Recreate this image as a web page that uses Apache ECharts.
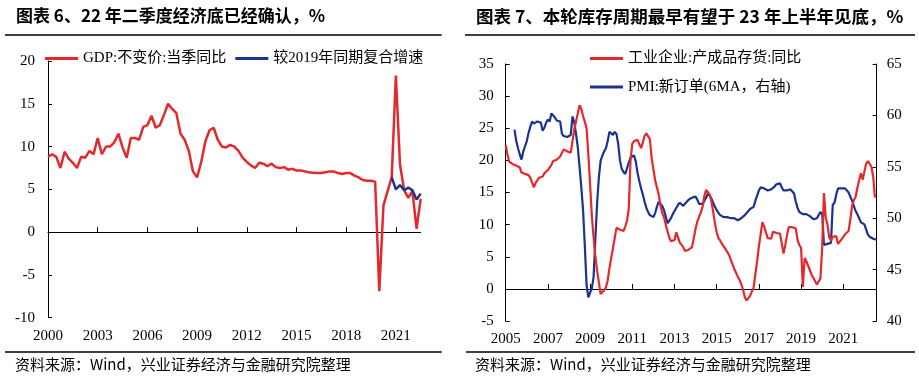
<!DOCTYPE html>
<html><head><meta charset="utf-8">
<script src="https://cdn.jsdelivr.net/npm/echarts@6/dist/echarts.min.js"></script>
<style>html,body{margin:0;padding:0;background:#fff}#c{width:919px;height:379px}</style>
</head><body><div id="c"></div>
<script>
// ---------- Left chart: quarterly GDP ----------
const gdpYears = [2000,2001,2002,2003,2004,2005,2006,2007,2008,2009,2010,2011,2012,2013,2014,2015,2016,2017,2018,2019,2020,2021,2022];
const gdpQuarterCount = 91; // 2000Q1 - 2022Q3
const gdpYoY = [
  8.8, 9.1, 8.8, 7.5,
  9.4, 8.6, 8.1, 7.5,
  8.8, 8.7, 9.5, 9.1,
  11.0, 9.1, 10.0, 10.0,
  10.5, 11.5, 9.9, 8.7,
  11.0, 11.0, 10.8, 12.3,
  12.5, 13.6, 12.2, 12.5,
  13.7, 15.0, 14.4, 13.9,
  11.5, 10.8, 9.5, 7.1,
  6.4, 8.2, 10.6, 11.9,
  12.2, 10.8, 10.0, 9.9,
  10.2, 10.0, 9.5, 8.7,
  8.2, 7.8, 7.5, 8.1,
  8.0, 7.7, 8.0, 7.6,
  7.5, 7.6, 7.3, 7.4,
  7.2, 7.2, 7.1, 7.0,
  6.95, 6.9, 6.9, 7.0,
  7.1, 7.1, 6.9, 6.8,
  6.9, 6.9, 6.6, 6.4,
  6.1, 6.0, 6.0, 5.9,
  -6.9, 3.1, 4.8, 6.4,
  18.3, 7.9, 4.9, 4.0,
  4.8, 0.4, 3.9
];
// compound growth vs 2019, from 2020Q4 to 2022Q3
const gdpVs2019Start = 83;
const gdpVs2019Values = [6.4, 5.0, 5.5, 4.9, 5.2, 4.9, 3.8, 4.5];
const gdpTickLabels = ['2000','2003','2006','2009','2012','2015','2018','2021'];

// ---------- Right chart: monthly inventory & PMI ----------
const invFirstYear = 2005, invMonthCount = 212; // 2005-01 .. 2022-08
const inv2005 = [22.4,20.9,19.8,19.5,19.4,19.4,19.2,19.1,18.9,18.1,18.0,17.9];
const inv2006 = [17.8,17.7,17.3,17.0,15.8,16.5,16.9,17.3,17.4,17.5,18.0,18.2];
const inv2007 = [18.5,18.8,19.3,19.9,20.0,20.1,20.3,20.6,21.2,21.7,21.6,21.4];
const inv2008 = [21.3,21.2,23.0,24.8,26.1,27.3,28.6,28.0,26.9,26.0,25.0,20.9];
const inv2009 = [16.3,11.3,8.0,5.0,2.8,1.0,-0.8,-0.5,-0.2,0.2,1.3,3.2];
const inv2010 = [4.8,6.3,7.9,9.5,9.4,9.2,9.1,9.0,9.7,10.6,12.5,20.0];
const inv2011 = [22.6,23.0,23.1,23.2,22.5,21.9,22.8,23.8,24.2,24.3,23.3,20.4];
const inv2012 = [18.6,16.9,15.8,14.7,13.0,11.8,11.2,10.0,9.0,8.0,7.4,7.4];
const inv2013 = [7.6,8.8,8.0,7.2,6.9,6.5,5.9,6.0,6.1,6.3,6.5,6.6];
const inv2014 = [9.4,10.5,11.2,11.9,12.8,14.5,15.4,15.3,14.7,13.6,12.0,10.2];
const inv2015 = [8.8,7.9,7.5,7.0,6.9,6.2,5.9,5.3,5.0,3.8,3.1,2.5];
const inv2016 = [1.9,1.4,0.7,-0.1,-1.3,-1.8,-1.7,-1.1,-0.4,0.2,2.3,4.3];
const inv2017 = [6.6,8.5,10.4,9.7,8.8,7.9,7.8,7.8,8.9,8.9,8.7,8.6];
const inv2018 = [8.6,8.6,5.5,6.8,8.4,9.6,9.8,9.6,9.6,9.4,7.6,6.8];
const inv2019 = [6.4,0.3,4.8,4.3,3.6,3.3,2.2,2.0,1.2,0.7,0.4,1.6];
const inv2020 = [6.5,14.9,11.1,10.0,8.0,7.5,8.1,8.2,8.2,7.0,7.3,7.7];
const inv2021 = [8.1,8.5,8.3,9.0,10.8,12.9,13.8,14.3,15.7,16.9,18.0,17.0];
const inv2022 = [16.9,19.5,19.9,19.6,19.0,17.5,14.2,null];

const pmi2005 = [null,null,null,null,null,58.6,57.5,56.8,56.2,55.7,56.5,57.0];
const pmi2006 = [57.5,58.3,58.9,59.4,59.2,59.1,59.4,59.5,59.3,58.5,58.8,59.3];
const pmi2007 = [59.6,59.4,60.2,60.2,59.8,59.5,59.5,59.4,58.2,58.0,58.1,57.9];
const pmi2008 = [58.0,58.1,59.9,59.3,58.2,56.9,55.0,53.0,50.8,47.3,43.5,42.3];
const pmi2009 = [42.4,43.2,44.3,48.0,51.5,54.0,55.6,56.1,56.5,56.8,57.5,58.4];
const pmi2010 = [58.3,58.1,58.4,58.2,57.2,55.6,54.8,54.5,54.3,54.3,55.4,55.9];
const pmi2011 = [56.0,56.1,55.5,54.4,53.6,52.9,52.3,51.6,51.0,50.6,50.3,50.2];
const pmi2012 = [50.1,50.5,51.1,51.6,51.4,51.2,50.8,50.2,49.5,49.6,50.0,50.4];
const pmi2013 = [50.7,51.0,51.3,51.5,51.6,51.2,51.4,51.6,51.8,51.9,52.0,52.1];
const pmi2014 = [52.1,51.8,51.4,51.3,51.4,51.7,52.0,52.4,52.2,51.9,51.5,51.1];
const pmi2015 = [50.8,50.5,50.3,50.2,50.1,50.1,50.1,50.0,50.0,50.0,50.0,50.0];
const pmi2016 = [49.8,49.8,50.0,50.1,50.3,50.5,50.6,50.9,51.0,51.1,51.7,52.2];
const pmi2017 = [52.7,53.0,53.0,52.9,52.8,52.7,52.7,52.8,52.9,53.1,53.3,53.4];
const pmi2018 = [53.4,53.0,52.7,52.7,52.7,52.7,52.8,52.8,52.4,51.6,51.0,50.6];
const pmi2019 = [50.5,50.4,50.4,50.4,50.3,50.2,50.1,49.9,49.8,50.0,50.3,50.6];
const pmi2020 = [50.4,47.4,47.5,47.5,47.5,47.6,51.3,51.5,52.3,52.9,52.9,52.9];
const pmi2021 = [52.9,52.9,52.8,52.5,52.1,51.7,51.2,50.7,50.4,50.0,49.6,49.5];
const pmi2022 = [49.4,49.5,48.4,48.2,48.2,48.0,47.9,47.9];
const invTickLabels = ['2005','2007','2009','2011','2013','2015','2017','2019','2021'];

// ---------- build ----------
const gdpCats = [];
for (let i = 0; i < gdpQuarterCount; i++) gdpCats.push((gdpYears[0] + Math.floor(i/4)) + 'Q' + (i%4+1));
const gdpVs2019 = gdpCats.map((c, i) => (i >= gdpVs2019Start ? gdpVs2019Values[i - gdpVs2019Start] : null));

const invCats = [];
for (let i = 0; i < invMonthCount; i++) {
  const m = i % 12 + 1;
  invCats.push((invFirstYear + Math.floor(i/12)) + '-' + (m < 10 ? '0' + m : m));
}
const invYoY = [].concat(inv2005,inv2006,inv2007,inv2008,inv2009,inv2010,inv2011,inv2012,inv2013,inv2014,inv2015,inv2016,inv2017,inv2018,inv2019,inv2020,inv2021,inv2022);
const pmi6MA = [].concat(pmi2005,pmi2006,pmi2007,pmi2008,pmi2009,pmi2010,pmi2011,pmi2012,pmi2013,pmi2014,pmi2015,pmi2016,pmi2017,pmi2018,pmi2019,pmi2020,pmi2021,pmi2022);

const SERIF = "'Liberation Serif','Noto Sans CJK SC',serif";
const SANS = "'Noto Sans CJK SC','Liberation Sans',sans-serif";
const RED = '#E5282B';
const NAVY = '#1A3390';
const lbl = {fontFamily: SERIF, fontSize: 15, color: '#000'};
const axLine = {show: true, lineStyle: {color: '#000', width: 1}};

const chart = echarts.init(document.getElementById('c'));
chart.setOption({
  animation: false,
  backgroundColor: '#fff',
  grid: [
    {left: 48, top: 61, width: 372.7, height: 256.7, containLabel: false, outerBoundsMode: 'none'},
    {left: 505.7, top: 64, width: 371, height: 257, containLabel: false, outerBoundsMode: 'none'}
  ],
  legend: [
    {data: ['GDP:不变价:当季同比', '较2019年同期复合增速'], left: 45, top: 51, padding: 0, icon: 'rect', itemWidth: 33, itemHeight: 3, itemGap: 9, selectedMode: false, textStyle: {fontFamily: SERIF, fontSize: 15, color: '#000'}},
    {data: ['工业企业:产成品存货:同比', 'PMI:新订单(6MA，右轴)'], orient: 'vertical', left: 590, top: 51, padding: 0, icon: 'rect', itemWidth: 33, itemHeight: 3, itemGap: 13.5, selectedMode: false, textStyle: {fontFamily: SERIF, fontSize: 15, color: '#000'}}
  ],
  xAxis: [
    {gridIndex: 0, type: 'category', data: gdpCats, boundaryGap: false, position: 'bottom',
     axisLine: {show: false, onZero: false}, axisTick: {show: false}, splitLine: {show: false},
     axisLabel: Object.assign({interval: 11, margin: 11, formatter: v => { const y = v.slice(0,4); return gdpTickLabels.indexOf(y) >= 0 ? y : ''; }}, lbl)},
    {gridIndex: 0, type: 'category', data: gdpCats, boundaryGap: false, position: 'bottom',
     axisLine: {show: true, onZero: true, onZeroAxisIndex: 0, lineStyle: {color: '#000', width: 1}},
     axisTick: {show: true, inside: true, interval: 11, length: 5, lineStyle: {color: '#000'}},
     axisLabel: {show: false}, splitLine: {show: false}},
    {gridIndex: 1, type: 'category', data: invCats, boundaryGap: false, position: 'bottom',
     axisLine: {show: false, onZero: false}, axisTick: {show: false}, splitLine: {show: false},
     axisLabel: Object.assign({interval: 23, margin: 11, formatter: v => { const y = v.slice(0,4); return invTickLabels.indexOf(y) >= 0 ? y : ''; }}, lbl)},
    {gridIndex: 1, type: 'category', data: invCats, boundaryGap: false, position: 'bottom',
     axisLine: {show: true, onZero: true, onZeroAxisIndex: 1, lineStyle: {color: '#000', width: 1}},
     axisTick: {show: true, inside: true, interval: 23, length: 5, lineStyle: {color: '#000'}},
     axisLabel: {show: false}, splitLine: {show: false}}
  ],
  yAxis: [
    {gridIndex: 0, type: 'value', min: -10, max: 20, interval: 5, position: 'left',
     axisLine: axLine, axisTick: {show: true, inside: true, length: 4, lineStyle: {color: '#000'}},
     splitLine: {show: false}, axisLabel: Object.assign({margin: 13}, lbl)},
    {gridIndex: 1, type: 'value', min: -5, max: 35, interval: 5, position: 'left',
     axisLine: axLine, axisTick: {show: true, inside: true, length: 4, lineStyle: {color: '#000'}},
     splitLine: {show: false}, axisLabel: Object.assign({margin: 12}, lbl)},
    {gridIndex: 1, type: 'value', min: 40, max: 65, interval: 5, position: 'right',
     axisLine: axLine, axisTick: {show: true, inside: true, length: 4, lineStyle: {color: '#000'}},
     splitLine: {show: false}, axisLabel: Object.assign({margin: 10}, lbl)}
  ],
  series: [
    {name: 'GDP:不变价:当季同比', type: 'line', xAxisIndex: 1, yAxisIndex: 0, data: gdpYoY, showSymbol: false, symbol: 'none', lineStyle: {color: RED, width: 2.5}, itemStyle: {color: RED}},
    {name: '较2019年同期复合增速', type: 'line', xAxisIndex: 1, yAxisIndex: 0, data: gdpVs2019, showSymbol: false, symbol: 'none', lineStyle: {color: NAVY, width: 2.5}, itemStyle: {color: NAVY}},
    {name: 'PMI:新订单(6MA，右轴)', type: 'line', xAxisIndex: 3, yAxisIndex: 2, data: pmi6MA, showSymbol: false, symbol: 'none', lineStyle: {color: NAVY, width: 2.2}, itemStyle: {color: NAVY}},
    {name: '工业企业:产成品存货:同比', type: 'line', xAxisIndex: 3, yAxisIndex: 1, data: invYoY, showSymbol: false, symbol: 'none', lineStyle: {color: RED, width: 2.2}, itemStyle: {color: RED}}
  ],
  graphic: [
    {type: 'text', x: 16, y: 16, style: {text: '图表 6、22 年二季度经济底已经确认，%', fontFamily: SANS, fontSize: 17, fontWeight: 'bold', fill: '#000', verticalAlign: 'middle'}},
    {type: 'text', x: 476, y: 16, style: {text: '图表 7、本轮库存周期最早有望于 23 年上半年见底，%', fontFamily: SANS, fontSize: 17.5, fontWeight: 'bold', fill: '#000', verticalAlign: 'middle'}},
    {type: 'line', shape: {x1: 5, y1: 35, x2: 441.7, y2: 35}, style: {stroke: '#000', lineWidth: 1.5}},
    {type: 'line', shape: {x1: 465, y1: 35, x2: 915, y2: 35}, style: {stroke: '#000', lineWidth: 1.5}},
    {type: 'line', shape: {x1: 5, y1: 352, x2: 441.7, y2: 352}, style: {stroke: '#000', lineWidth: 1.5}},
    {type: 'line', shape: {x1: 466, y1: 352, x2: 915, y2: 352}, style: {stroke: '#000', lineWidth: 1.5}},
    {type: 'text', x: 15, y: 364.5, style: {text: '资料来源：Wind，兴业证券经济与金融研究院整理', fontFamily: SANS, fontSize: 15, fill: '#000', verticalAlign: 'middle'}},
    {type: 'text', x: 475, y: 364.5, style: {text: '资料来源：Wind，兴业证券经济与金融研究院整理', fontFamily: SANS, fontSize: 15, fill: '#000', verticalAlign: 'middle'}}
  ]
});
</script></body></html>
